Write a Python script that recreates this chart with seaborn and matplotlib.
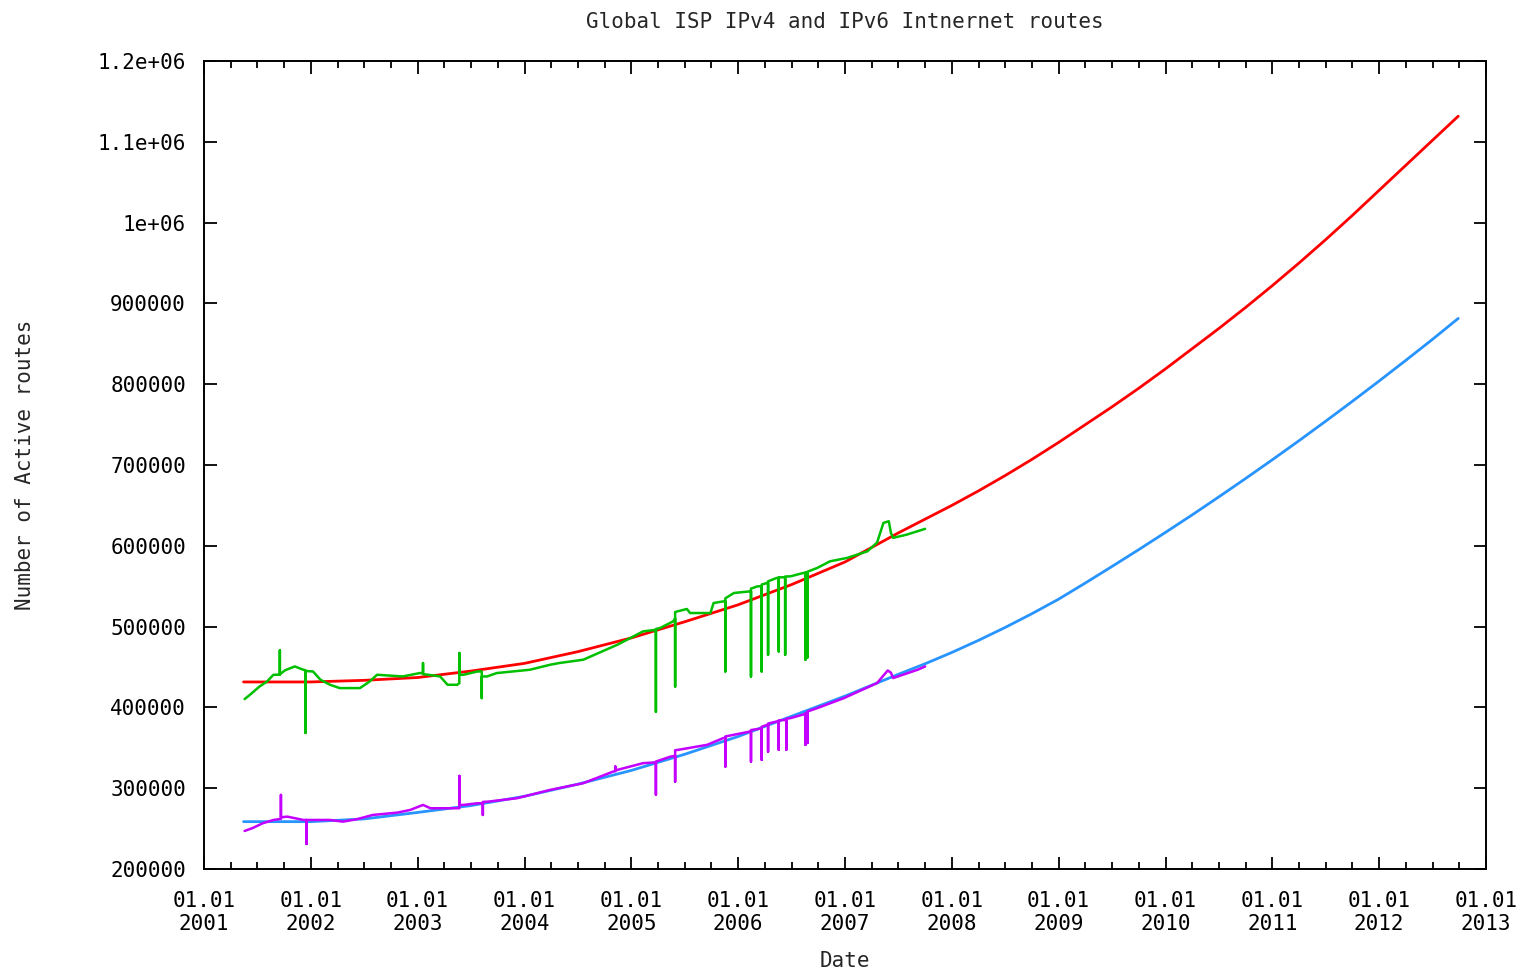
import numpy as np
import pandas as pd
import matplotlib
matplotlib.use("Agg")
import matplotlib.pyplot as plt
import seaborn as sns
from matplotlib.ticker import MultipleLocator, FixedLocator

# fitted trend curves (decimal year, routes)
fit_years = [2001.37, 2002.0, 2002.5, 2003.0, 2003.5, 2004.0, 2004.5, 2005.0, 2005.5,
             2006.0, 2006.5, 2007.0, 2007.5, 2007.75, 2008.0, 2008.25, 2008.5, 2008.75,
             2009.0, 2009.25, 2009.5, 2009.75, 2010.0, 2010.25, 2010.5, 2010.75,
             2011.0, 2011.25, 2011.5, 2011.75, 2012.0, 2012.25, 2012.5, 2012.74]
ipv4_fit = [431500, 431500, 433500, 437000, 445000, 454500, 469000, 486000, 506000,
            527000, 552000, 580000, 616000, 633000, 650000, 668000, 687000, 707000,
            728000, 750000, 772000, 795000, 819000, 844000, 869000, 895000,
            922000, 950000, 979000, 1009000, 1040000, 1071000, 1102000, 1131700]
ipv6_fit = [258600, 258600, 262000, 270000, 278500, 290000, 305000, 322000, 342000,
            364000, 389000, 414000, 441000, 454000, 468000, 483000, 499000, 516000,
            534000, 554000, 574500, 595300, 616600, 638300, 660600, 683300,
            706500, 730100, 754300, 778900, 804000, 829600, 855600, 881400]

# measured routes, drops/peaks written as down-and-back points
ipv4_data = [
    (2001.38, 410300), (2001.43, 415600), (2001.52, 425900), (2001.59, 432000),
    (2001.65, 440400), (2001.71, 440400), (2001.71, 470500), (2001.71, 441000),
    (2001.76, 446000), (2001.85, 450700), (2001.93, 446600), (2001.95, 446000),
    (2001.95, 368500), (2001.95, 445000), (2002.02, 444500), (2002.09, 434200),
    (2002.18, 428000), (2002.27, 423900), (2002.46, 423900), (2002.55, 432000),
    (2002.62, 440400), (2002.86, 438300), (2003.02, 442500), (2003.05, 442500),
    (2003.05, 454900), (2003.05, 441000), (2003.10, 440400), (2003.21, 438300),
    (2003.28, 428000), (2003.37, 428000), (2003.39, 430000), (2003.39, 467300),
    (2003.39, 440400), (2003.43, 440400), (2003.56, 444500), (2003.60, 444500),
    (2003.60, 411500), (2003.60, 438300), (2003.65, 438300), (2003.74, 442500),
    (2004.05, 446600), (2004.24, 452800), (2004.33, 455000), (2004.55, 459000),
    (2004.87, 477600), (2005.11, 494100), (2005.23, 496000), (2005.23, 394500),
    (2005.23, 497000), (2005.27, 498300), (2005.39, 506400), (2005.41, 510000),
    (2005.41, 425900), (2005.41, 518000), (2005.43, 518800), (2005.52, 521800),
    (2005.55, 516800), (2005.74, 516800), (2005.77, 529200), (2005.86, 531200),
    (2005.88, 531200), (2005.88, 444500), (2005.88, 535000), (2005.96, 541600),
    (2006.11, 543600), (2006.12, 543600), (2006.12, 438300), (2006.12, 547000),
    (2006.18, 549800), (2006.22, 550000), (2006.22, 444500), (2006.22, 552000),
    (2006.27, 554000), (2006.28, 554000), (2006.28, 465200), (2006.28, 556000),
    (2006.36, 560200), (2006.38, 560200), (2006.38, 469300), (2006.38, 561000),
    (2006.44, 561000), (2006.44, 465200), (2006.44, 562000), (2006.49, 562200),
    (2006.61, 566400), (2006.63, 566400), (2006.63, 459000), (2006.63, 567000),
    (2006.65, 567000), (2006.65, 462000), (2006.65, 568000), (2006.74, 572600),
    (2006.86, 580800), (2007.02, 585000), (2007.21, 593200), (2007.30, 604000),
    (2007.36, 628400), (2007.41, 630400), (2007.43, 616000), (2007.45, 609800),
    (2007.58, 613900), (2007.75, 621000),
]
ipv6_data = [
    (2001.38, 247100), (2001.45, 250400), (2001.55, 256600), (2001.65, 260700),
    (2001.72, 262000), (2001.72, 291700), (2001.72, 264000), (2001.78, 264800),
    (2001.93, 260700), (2001.96, 260700), (2001.96, 231000), (2001.96, 260700),
    (2002.18, 260700), (2002.30, 258600), (2002.43, 261600), (2002.58, 266900),
    (2002.81, 269800), (2002.93, 273100), (2003.05, 279300), (2003.12, 275200),
    (2003.36, 275200), (2003.39, 275200), (2003.39, 315200), (2003.39, 279300),
    (2003.43, 279300), (2003.56, 281400), (2003.61, 281400), (2003.61, 266900),
    (2003.61, 283000), (2003.66, 283400), (2003.93, 287600), (2004.24, 297900),
    (2004.55, 306200), (2004.83, 320600), (2004.85, 321000), (2004.85, 326800),
    (2004.85, 322000), (2005.11, 331000), (2005.23, 332000), (2005.23, 292000),
    (2005.23, 333000), (2005.37, 339200), (2005.41, 340000), (2005.41, 308200),
    (2005.41, 347000), (2005.44, 347500), (2005.71, 353700), (2005.86, 362000),
    (2005.88, 362000), (2005.88, 326800), (2005.88, 364000), (2006.11, 370100),
    (2006.12, 370100), (2006.12, 333000), (2006.12, 372000), (2006.22, 374000),
    (2006.22, 335100), (2006.22, 376000), (2006.27, 378400), (2006.28, 378400),
    (2006.28, 345400), (2006.28, 380000), (2006.36, 382500), (2006.38, 382500),
    (2006.38, 347500), (2006.38, 384000), (2006.45, 384500), (2006.45, 347500),
    (2006.45, 386000), (2006.49, 386700), (2006.63, 392000), (2006.63, 353700),
    (2006.63, 393000), (2006.65, 393000), (2006.65, 356000), (2006.65, 395000),
    (2006.74, 399100), (2006.99, 411500), (2007.30, 430100), (2007.40, 445700),
    (2007.43, 443000), (2007.45, 436300), (2007.68, 446600), (2007.75, 450700),
]

year_ticks = list(range(2001, 2014))
year_labels = ["01.01\n%d" % y for y in year_ticks]
route_ticks = [200000, 300000, 400000, 500000, 600000, 700000, 800000, 900000,
               1000000, 1100000, 1200000]
route_labels = ["200000", "300000", "400000", "500000", "600000", "700000", "800000",
                "900000", "1e+06", "1.1e+06", "1.2e+06"]

sns.set_theme(style="ticks")
plt.rcParams['font.family'] = ['DejaVu Sans Mono', 'DejaVu Sans']

fig = plt.figure(figsize=(15.29, 9.72), dpi=100)
ax = fig.add_axes([204/1529, 1 - 869/972, 1282/1529, 808/972])

v4 = pd.DataFrame(ipv4_data, columns=["year", "routes"])
v6 = pd.DataFrame(ipv6_data, columns=["year", "routes"])

sns.lineplot(x=fit_years, y=ipv4_fit, ax=ax, color="#ff0000", lw=2.0, sort=False, estimator=None)
sns.lineplot(x=fit_years, y=ipv6_fit, ax=ax, color="#2894ff", lw=2.0, sort=False, estimator=None)
sns.lineplot(data=v4, x="year", y="routes", ax=ax, color="#00c000", lw=1.8, sort=False, estimator=None)
sns.lineplot(data=v6, x="year", y="routes", ax=ax, color="#c400ff", lw=1.8, sort=False, estimator=None)

ax.set_xlim(2001, 2013)
ax.set_ylim(200000, 1200000)
ax.xaxis.set_major_locator(FixedLocator(year_ticks))
ax.set_xticklabels(year_labels)
ax.xaxis.set_minor_locator(MultipleLocator(0.25))
ax.yaxis.set_major_locator(FixedLocator(route_ticks))
ax.set_yticklabels(route_labels)

ax.tick_params(which="both", direction="in", top=True, right=True, color="black",
               labelsize=15, labelcolor="black")
ax.tick_params(axis="x", which="major", length=9, width=1.3, pad=16)
ax.tick_params(axis="x", which="minor", length=5, width=1.3)
ax.tick_params(axis="y", which="major", length=9, width=1.3, pad=13)
for s in ax.spines.values():
    s.set_visible(True)
    s.set_color("black")
    s.set_linewidth(1.4)

ax.set_title("Global ISP IPv4 and IPv6 Intnernet routes", fontsize=15, pad=24)
ax.set_xlabel("Date", fontsize=15, labelpad=12)
ax.set_ylabel("Number of Active routes", fontsize=15)
ax.yaxis.set_label_coords(-0.132, 0.5)

fig.savefig("out.png", dpi=100)
